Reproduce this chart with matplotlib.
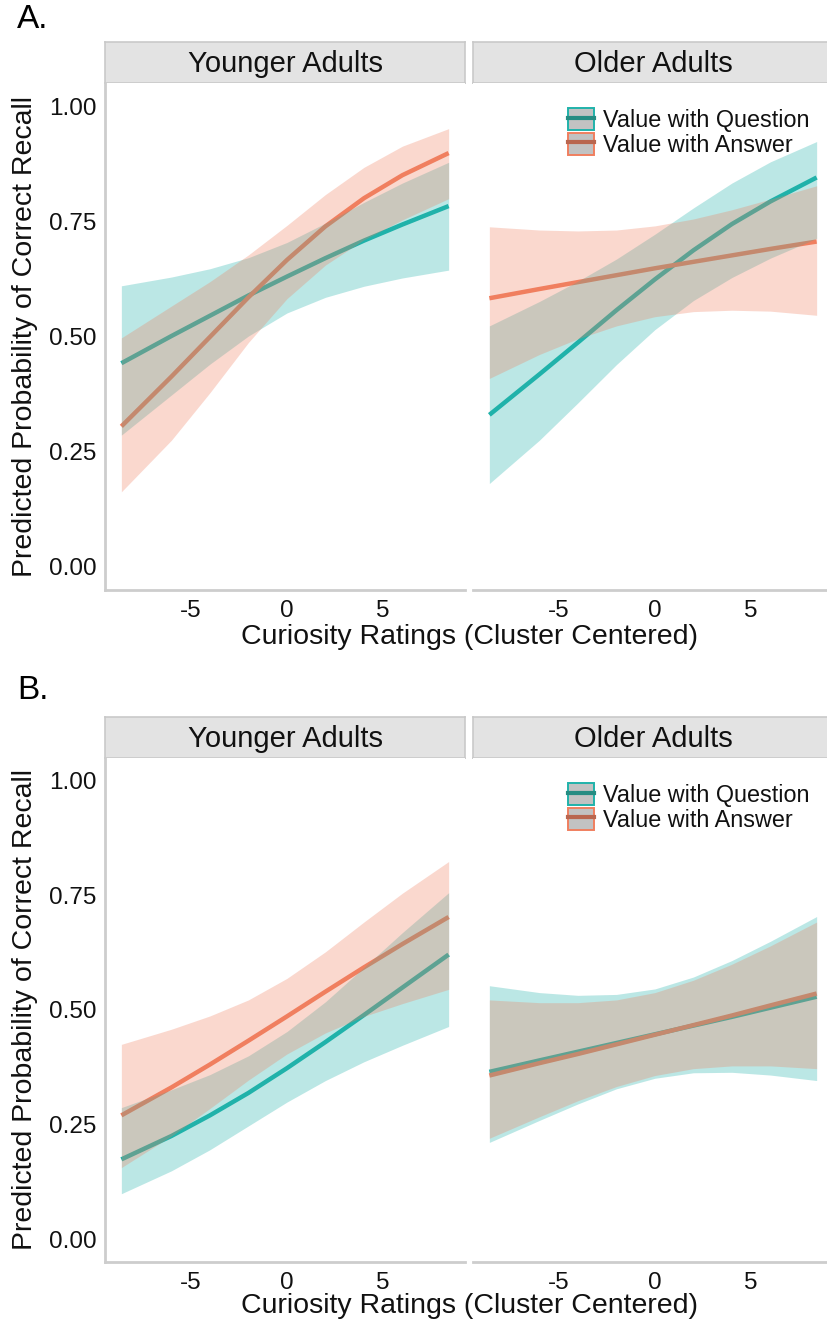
import matplotlib
matplotlib.use("Agg")
import matplotlib.pyplot as plt
from matplotlib.patches import Patch
from matplotlib.lines import Line2D

plt.rcParams['font.family'] = ['Liberation Sans', 'DejaVu Sans']

# ---------------- data ----------------
curiosity = [-8.6, -6, -4, -2, 0, 2, 4, 6, 8.4]
x_ticks = [-5, 0, 5]
y_ticks = [0.00, 0.25, 0.50, 0.75, 1.00]
y_tick_labels = ["0.00", "0.25", "0.50", "0.75", "1.00"]
facets = ["Younger Adults", "Older Adults"]
series_labels = ["Value with Question", "Value with Answer"]

# Panel A, Younger Adults
A_young_q_fit = [0.442, 0.501, 0.545, 0.589, 0.630, 0.670, 0.708, 0.743, 0.783]
A_young_q_lo = [0.286, 0.373, 0.440, 0.501, 0.551, 0.585, 0.609, 0.627, 0.644]
A_young_q_hi = [0.610, 0.629, 0.647, 0.671, 0.704, 0.746, 0.791, 0.833, 0.878]
A_young_a_fit = [0.305, 0.413, 0.499, 0.585, 0.666, 0.739, 0.800, 0.850, 0.898]
A_young_a_lo = [0.163, 0.275, 0.378, 0.487, 0.582, 0.655, 0.710, 0.753, 0.799]
A_young_a_hi = [0.497, 0.566, 0.619, 0.677, 0.741, 0.808, 0.867, 0.913, 0.951]

# Panel A, Older Adults
A_old_q_fit = [0.330, 0.418, 0.487, 0.557, 0.624, 0.687, 0.744, 0.793, 0.845]
A_old_q_lo = [0.181, 0.275, 0.356, 0.439, 0.515, 0.578, 0.628, 0.670, 0.713]
A_old_q_hi = [0.523, 0.576, 0.620, 0.668, 0.722, 0.779, 0.833, 0.879, 0.923]
A_old_a_fit = [0.583, 0.603, 0.618, 0.633, 0.648, 0.662, 0.676, 0.690, 0.706]
A_old_a_lo = [0.409, 0.461, 0.495, 0.523, 0.543, 0.554, 0.557, 0.555, 0.546]
A_old_a_hi = [0.738, 0.731, 0.729, 0.731, 0.740, 0.755, 0.775, 0.798, 0.827]

# Panel B, Younger Adults
B_young_q_fit = [0.174, 0.225, 0.270, 0.319, 0.373, 0.430, 0.489, 0.549, 0.621]
B_young_q_lo = [0.099, 0.149, 0.195, 0.247, 0.299, 0.346, 0.387, 0.423, 0.464]
B_young_q_hi = [0.287, 0.326, 0.359, 0.400, 0.453, 0.518, 0.593, 0.669, 0.756]
B_young_a_fit = [0.270, 0.331, 0.381, 0.433, 0.486, 0.540, 0.593, 0.644, 0.703]
B_young_a_lo = [0.156, 0.225, 0.285, 0.347, 0.404, 0.450, 0.486, 0.514, 0.545]
B_young_a_hi = [0.425, 0.458, 0.487, 0.522, 0.569, 0.627, 0.692, 0.755, 0.824]

# Panel B, Older Adults
B_old_q_fit = [0.365, 0.390, 0.409, 0.428, 0.447, 0.466, 0.485, 0.505, 0.529]
B_old_q_lo = [0.211, 0.259, 0.295, 0.328, 0.351, 0.363, 0.364, 0.358, 0.346]
B_old_q_hi = [0.553, 0.538, 0.532, 0.534, 0.546, 0.572, 0.608, 0.650, 0.704]
B_old_a_fit = [0.357, 0.384, 0.404, 0.425, 0.446, 0.467, 0.488, 0.510, 0.536]
B_old_a_lo = [0.220, 0.267, 0.302, 0.333, 0.357, 0.372, 0.378, 0.378, 0.372]
B_old_a_hi = [0.522, 0.516, 0.516, 0.522, 0.538, 0.565, 0.600, 0.640, 0.692]

# ---------------- styling ----------------
TEAL = "#20B2AA"
SALMON = "#F07F5F"
TEAL_KEY = "#268C82"
SALMON_KEY = "#B9664F"
AXIS_GREY = "#CDCDCD"
STRIP_FILL = "#E3E3E3"
STRIP_EDGE = "#C9C9C9"

W, H = 827, 1329
fig = plt.figure(figsize=(W / 100, H / 100), dpi=100)
fig.patch.set_facecolor("white")


def box(x0, y0, x1, y1):
    return [x0 / W, 1 - y1 / H, (x1 - x0) / W, (y1 - y0) / H]


panels = [
    dict(letter="A.", letter_y=20, strip=(42, 83), plot=(83, 590),
         data=[(A_young_q_fit, A_young_q_lo, A_young_q_hi, A_young_a_fit, A_young_a_lo, A_young_a_hi),
               (A_old_q_fit, A_old_q_lo, A_old_q_hi, A_old_a_fit, A_old_a_lo, A_old_a_hi)],
         xlabel_y=637),
    dict(letter="B.", letter_y=690, strip=(717, 758), plot=(758, 1262),
         data=[(B_young_q_fit, B_young_q_lo, B_young_q_hi, B_young_a_fit, B_young_a_lo, B_young_a_hi),
               (B_old_q_fit, B_old_q_lo, B_old_q_hi, B_old_a_fit, B_old_a_lo, B_old_a_hi)],
         xlabel_y=1306),
]

facet_x = [(105, 465), (473, 833)]

for p in panels:
    top, bottom = p["plot"]
    s0, s1 = p["strip"]
    for fi, (fx0, fx1) in enumerate(facet_x):
        # strip
        sax = fig.add_axes(box(fx0, s0, fx1, s1))
        sax.set_facecolor(STRIP_FILL)
        sax.set_xticks([])
        sax.set_yticks([])
        for sp in sax.spines.values():
            sp.set_color(STRIP_EDGE)
            sp.set_linewidth(1.2)
        sax.text(0.5, 0.47, facets[fi], ha="center", va="center", fontsize=21,
                 transform=sax.transAxes, color="#111111")

        ax = fig.add_axes(box(fx0, top, fx1, bottom))
        qf, ql, qh, af, al, ah = p["data"][fi]
        # lines first, ribbons on top (as in the reference)
        ax.plot(curiosity, qf, color=TEAL, lw=3.2, zorder=2, solid_capstyle="butt")
        ax.plot(curiosity, af, color=SALMON, lw=3.2, zorder=2, solid_capstyle="butt")
        ax.fill_between(curiosity, ql, qh, color=TEAL, alpha=0.3, lw=0, zorder=3)
        ax.fill_between(curiosity, al, ah, color=SALMON, alpha=0.3, lw=0, zorder=4)

        ax.set_xlim(-9.45, 9.25)
        ax.set_ylim(-0.05, 1.05)
        ax.set_xticks(x_ticks)
        ax.set_xticklabels([str(t) for t in x_ticks])
        ax.tick_params(axis="x", length=0, pad=7, labelsize=17.5, labelcolor="#111111")
        ax.set_yticks(y_ticks)
        if fi == 0:
            ax.set_yticklabels(y_tick_labels)
            ax.tick_params(axis="y", length=0, pad=6, labelsize=17.5, labelcolor="#111111")
        else:
            ax.tick_params(axis="y", length=0, labelleft=False)
        for name, sp in ax.spines.items():
            sp.set_visible(False)
        ax.spines["bottom"].set_visible(True)
        ax.spines["bottom"].set_color(AXIS_GREY)
        ax.spines["bottom"].set_linewidth(2)
        if fi == 0:
            ax.spines["left"].set_visible(True)
            ax.spines["left"].set_color(AXIS_GREY)
            ax.spines["left"].set_linewidth(2)
        ax.set_facecolor("white")

        if fi == 1:
            handles = [
                (Patch(facecolor="#C2C2C2", edgecolor=TEAL, linewidth=1.4),
                 Line2D([], [], color=TEAL_KEY, lw=3)),
                (Patch(facecolor="#C2C2C2", edgecolor=SALMON, linewidth=1.4),
                 Line2D([], [], color=SALMON_KEY, lw=3)),
            ]
            fig.legend(handles, series_labels, loc="upper left",
                       bbox_to_anchor=(568 / W, 1 - (top + 25) / H),
                       frameon=False, fontsize=16.8, handlelength=1.1, handleheight=1.1,
                       handletextpad=0.38, labelspacing=0.02, borderpad=0, borderaxespad=0,
                       labelcolor="#111111")

    # panel letter
    fig.text(17 / W, 1 - p["letter_y"] / H, p["letter"], fontsize=24, ha="left", va="center",
             color="black")
    # axis labels
    fig.text(469 / W, 1 - p["xlabel_y"] / H, "Curiosity Ratings (Cluster Centered)",
             fontsize=20.5, ha="center", va="center", color="#111111")
    fig.text(25 / W, 1 - ((top + bottom) / 2) / H, "Predicted Probability of Correct Recall",
             fontsize=20.5, ha="center", va="center", rotation=90, color="#111111")

fig.savefig("out.png", dpi=100, facecolor="white")
